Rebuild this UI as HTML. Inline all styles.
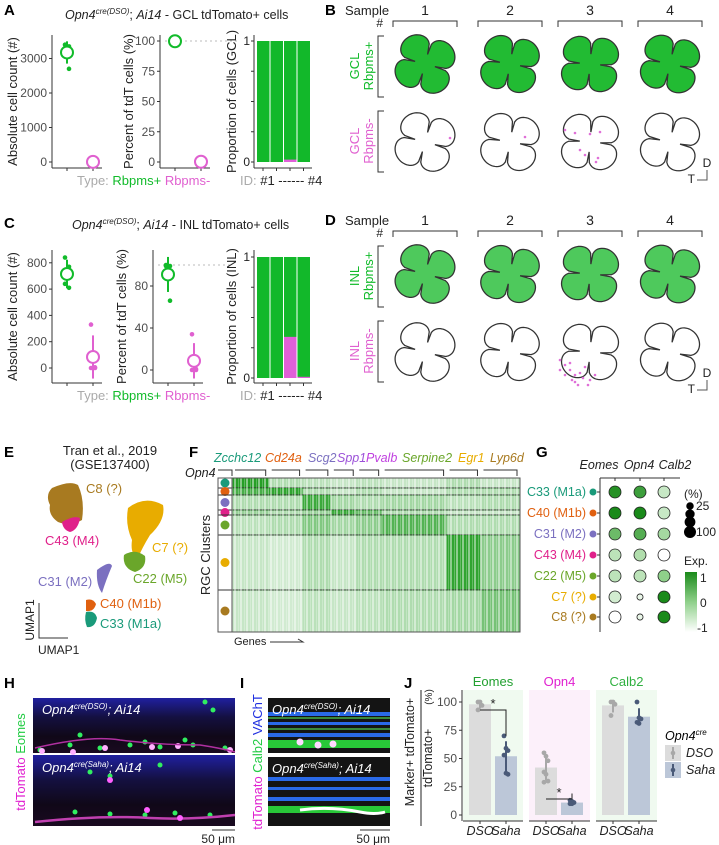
<!DOCTYPE html>
<html><head><meta charset="utf-8"><style>
html,body{margin:0;padding:0;background:#fff;}
svg{display:block;font-family:"Liberation Sans",Arial,sans-serif;}
text{font-family:"Liberation Sans",Arial,sans-serif;}
</style></head><body>
<svg id="fig" width="719" height="845" viewBox="0 0 719 845" xmlns="http://www.w3.org/2000/svg">
<defs>
<linearGradient id="expgrad" x1="0" y1="1" x2="0" y2="0"><stop offset="0" stop-color="#ffffff"/><stop offset="0.5" stop-color="#8fd08a"/><stop offset="1" stop-color="#1a8a1a"/></linearGradient>
<linearGradient id="hgrad" x1="0" y1="0" x2="0" y2="1"><stop offset="0" stop-color="#2020a0"/><stop offset="0.35" stop-color="#141040"/><stop offset="0.7" stop-color="#100818"/><stop offset="1" stop-color="#1a0a20"/></linearGradient>
<pattern id="stripes" width="6" height="4" patternUnits="userSpaceOnUse"><rect width="2" height="4" fill="#fff" opacity="0.45"/><rect x="4" width="1" height="4" fill="#fff" opacity="0.25"/></pattern>
</defs>
<g id="root"></g>
</svg>
<script>
// ---------- Panel A data ----------
const aCountRbpmsPos = [3400, 3350, 3250, 2700];
const aCountRbpmsNeg = [0, 0, 10, 5];
const aPctRbpmsPos = [100, 99.8, 99.5, 99.9];
const aPctRbpmsNeg = [0, 0.2, 0.5, 0.1];
const aPropNeg = [0, 0, 0.02, 0];
const aCountTicks = [0, 1000, 2000, 3000];
const aPctTicks = [0, 25, 50, 75, 100];
// ---------- Panel C data ----------
const cCountRbpmsPos = [840, 770, 640, 610];
const cCountRbpmsNeg = [330, 5, 0, 0];
const cPctRbpmsPos = [100, 99, 99, 66];
const cPctRbpmsNeg = [34, 1, 0, 0];
const cPropNeg = [0, 0, 0.34, 0.01];
const cCountTicks = [0, 200, 400, 600, 800];
const cPctTicks = [0, 40, 80];
// ---------- Panel F data ----------
const fClusters = ['C33','C40','C31','C43','C22','C7','C8'];
const fClusterColors = ['#1a9a7a','#e06010','#7b70c0','#e0208a','#6aa62a','#e8ac00','#a87a20'];
const fClusterRows = [10, 7, 15, 5, 20, 55, 42];
const fGeneBlocks = ['Zcchc12','Cd24a','Scg2','Spp1','Pvalb','Serpine2','Egr1','Lyp6d'];
const fGeneBlockCols = [13, 12, 10, 9, 9, 23, 12, 14];
const fBlockExpr = [
 [0.95,0.35,0.3,0.25,0.3,0.25,0.35,0.25],
 [0.8,0.9,0.35,0.25,0.35,0.25,0.35,0.35],
 [0.35,0.35,0.85,0.4,0.35,0.4,0.3,0.35],
 [0.45,0.35,0.45,0.85,0.65,0.35,0.25,0.25],
 [0.3,0.35,0.55,0.4,0.5,0.75,0.35,0.35],
 [0.25,0.2,0.35,0.25,0.35,0.35,0.9,0.5],
 [0.25,0.2,0.3,0.25,0.3,0.35,0.4,0.6]];
// ---------- Panel G data ----------
const gGenes = ['Eomes','Opn4','Calb2'];
const gClusters = ['C33 (M1a)','C40 (M1b)','C31 (M2)','C43 (M4)','C22 (M5)','C7 (?)','C8 (?)'];
const gExpr = [[0.9,0.7,-0.5],[1.0,1.0,-0.5],[0.3,0.5,-0.2],[-0.4,-0.3,-1],[-0.4,-0.4,0.0],[-0.6,-0.8,1.0],[-1,-0.8,1.0]];
const gPct = [[100,100,100],[100,100,100],[100,100,100],[100,100,100],[100,100,100],[100,12,100],[100,12,100]];
// ---------- Panel J data ----------
const jMarkers = ['Eomes','Opn4','Calb2'];
const jDsoMean = [98, 42, 97];
const jSahaMean = [52, 11, 87];
const jDsoPts = [[100,100,97,93],[55,52,48,38,36,30,29],[100,100,98,88]];
const jSahaPts = [[70,59,57,53,37,36],[13,12,11,10,10],[100,86,85,82,81]];
const jTicks = [0,25,50,75,100];

const NS='http://www.w3.org/2000/svg';
const root=document.getElementById('root');
function mk(tag, attrs, parent, name, inter){
  const el=document.createElementNS(NS,tag);
  for(const k in attrs) el.setAttribute(k, attrs[k]);
  
  
  (parent||root).appendChild(el); return el;
}
function txt(x,y,s,attrs,name,parent){
  const a=Object.assign({x:x,y:y,'font-size':12,fill:'#222'},attrs||{});
  const t=mk('text',a,parent,name,false); t.textContent=s; return t;
}
function line(x1,y1,x2,y2,attrs,name,parent){
  return mk('line',Object.assign({x1:x1,y1:y1,x2:x2,y2:y2,stroke:'#333','stroke-width':1},attrs||{}),parent,name,false);
}
function panelLabel(x,y,s){ txt(x,y,s,{'font-size':15,'font-weight':'bold',fill:'#000'},'panel-label-'+s.toLowerCase()); }
function titleCre(x,y,cre,rest,name){
  const t=mk('text',{x:x,y:y,'font-size':12.5,fill:'#222'},root,name,false);
  t.innerHTML='<tspan font-style="italic">Opn4</tspan><tspan font-style="italic" font-size="8" dy="-5">'+cre+'</tspan><tspan dy="5">; </tspan><tspan font-style="italic">Ai14</tspan><tspan>'+rest+'</tspan>';
}
const GREEN='#11bb2a', MAG='#e060d0';
const mean=a=>a.reduce((s,v)=>s+v,0)/a.length;
function sd(a){const m=mean(a);return Math.sqrt(a.reduce((s,v)=>s+(v-m)*(v-m),0)/(a.length-1||1));}

function yAxis(x,yTop,yBot,ticks,yf,name,fmt){
  const g=mk('g',{},root,name,false);
  line(x,yTop,x,yBot,{},'y-axis-line',g);
  ticks.forEach(v=>{const y=yf(v);line(x-3,y,x,y,{},'y-tick',g);txt(x-5,y+4,fmt?fmt(v):String(v),{'text-anchor':'end',fill:'#4d4d4d','font-size':12},'y-tick-label',g);});
  return g;
}
function dotGroup(g,x,pts,yf,color,name){
  const m=mean(pts), s=sd(pts);
  line(x,yf(m-s),x,yf(m+s),{stroke:color,'stroke-width':2},name+'-errorbar',g);
  pts.forEach((v,i)=>mk('circle',{cx:x+((i%2)?2:-2),cy:yf(v),r:2.3,fill:color},g,name+'-point',false));
  mk('circle',{cx:x,cy:yf(m),r:6,fill:'#fff',stroke:color,'stroke-width':2},g,name+'-mean',false);
}
function yRotLabel(x,y,s,name,size){
  txt(0,0,s,{transform:'translate('+x+','+y+') rotate(-90)','text-anchor':'middle','font-size':size||13,fill:'#222'},name);
}
function countPanel(prefix,top,bot,axX,zeroY,scale,ticks,pos,neg,pctAxX,pctZeroY,pctScale,pctTicks,ppos,pneg,propNeg,propTop,propZero,region){
  const y1=v=>zeroY-v*scale;
  const g1=yAxis(axX,top,bot,ticks,y1,prefix+'-count-axis');
  line(axX,bot,axX+50,bot,{},'x-axis-line',g1);
  line(axX+15,bot,axX+15,bot+3,{},'x-tick',g1);line(axX+41,bot,axX+41,bot+3,{},'x-tick',g1);
  dotGroup(g1,axX+15,pos,y1,GREEN,prefix+'-count-rbpms-pos');
  dotGroup(g1,axX+41,neg,y1,MAG,prefix+'-count-rbpms-neg');
  yRotLabel(17,(top+bot)/2,'Absolute cell count (#)',prefix+'-count-y-title');
  const y2=v=>pctZeroY-v*pctScale;
  const g2=yAxis(pctAxX,top,bot,pctTicks,y2,prefix+'-pct-axis');
  line(pctAxX,bot,pctAxX+50,bot,{},'x-axis-line',g2);
  line(pctAxX+15,bot,pctAxX+15,bot+3,{},'x-tick',g2);line(pctAxX+41,bot,pctAxX+41,bot+3,{},'x-tick',g2);
  line(pctAxX+5,y2(100),pctAxX+80,y2(100),{stroke:'#bbb','stroke-dasharray':'2,3'},'reference-line-100',g2);
  dotGroup(g2,pctAxX+15,ppos,y2,GREEN,prefix+'-pct-rbpms-pos');
  dotGroup(g2,pctAxX+41,pneg,y2,MAG,prefix+'-pct-rbpms-neg');
  yRotLabel(pctAxX-27,(top+bot)/2,'Percent of tdT cells (%)',prefix+'-pct-y-title');
  const t=mk('text',{x:77,y:bot+17,'font-size':13},root,prefix+'-type-legend',false);
  t.innerHTML='<tspan fill="#aaa">Type: </tspan><tspan fill="'+GREEN+'">Rbpms+ </tspan><tspan fill="'+MAG+'">Rbpms-</tspan>';
  const px=254; const y3=v=>propZero-v*(propZero-propTop);
  const g3=mk('g',{},root,prefix+'-proportion-chart',false);
  line(px,top,px,bot,{},'y-axis-line',g3);
  line(px,bot,px+58,bot,{},'x-axis-line',g3);
  [0,0.25,0.5,0.75,1].forEach(v=>{line(px-3,y3(v),px,y3(v),{},'y-tick',g3);});
  txt(px-4,y3(1)+4,'1',{'text-anchor':'end',fill:'#222','font-size':12},'y-tick-label',g3);
  txt(px-4,y3(0)+4,'0',{'text-anchor':'end',fill:'#222','font-size':12},'y-tick-label',g3);
  propNeg.forEach((f,i)=>{
    const x=px+3+i*13.5;
    mk('rect',{x:x,y:y3(1),width:12.5,height:y3(0)-y3(1),fill:'#12b82a'},g3,'bar-rbpms-pos-'+(i+1),false);
    if(f>0) mk('rect',{x:x,y:y3(f),width:12.5,height:y3(0)-y3(f),fill:'#e060d8'},g3,'bar-rbpms-neg-'+(i+1),false);
    line(x+6,bot,x+6,bot+3,{},'x-tick',g3);
  });
  yRotLabel(px-18,(top+bot)/2,'Proportion of cells ('+region+')',prefix+'-prop-y-title');
  const t2=mk('text',{x:240,y:bot+17,'font-size':13},root,prefix+'-id-legend',false);
  t2.innerHTML='<tspan fill="#aaa">ID: </tspan><tspan fill="#222">#1 ------ #4</tspan>';
}
panelLabel(4,15,'A');
titleCre(65,19,'cre(DSO)',' - GCL tdTomato+ cells','panel-a-title');
countPanel('a',35,168,52,162,0.0345,aCountTicks,aCountRbpmsPos,aCountRbpmsNeg,160,162,1.21,aPctTicks,aPctRbpmsPos,aPctRbpmsNeg,aPropNeg,41,162,'GCL');
panelLabel(4,228,'C');
titleCre(72,229,'cre(DSO)',' - INL tdTomato+ cells','panel-c-title');
countPanel('c',250,383,52,368,0.1315,cCountTicks,cCountRbpmsPos,cCountRbpmsNeg,153,370,1.05,cPctTicks,cPctRbpmsPos,cPctRbpmsNeg,cPropNeg,257,378,'INL');

// ---------- Retina panels B / D ----------
let clover='';
for(let k=0;k<=120;k++){
  const th=k/120*2*Math.PI;
  const r=0.32+0.68*Math.pow(Math.abs(Math.sin(2*th)),0.3);
  clover+=(k?'L':'M')+(r*Math.cos(th)).toFixed(3)+','+(r*Math.sin(th)).toFixed(3)+' ';
}
clover+='Z';
const retX=[425,510,590,670];
function retinaPanel(letter,y0,region,magDots,fillOp){
  panelLabel(325,y0+15,letter);
  txt(345,y0+15,'Sample',{'font-size':13},'panel-'+letter.toLowerCase()+'-sample-label');
  txt(383,y0+27,'#',{'font-size':12,'text-anchor':'end'},'sample-hash');
  retX.forEach((x,i)=>{
    txt(x,y0+15,String(i+1),{'font-size':14,'text-anchor':'middle'},'sample-number-'+(i+1));
    mk('path',{d:'M'+(x-32)+','+(y0+27)+' V'+(y0+21)+' H'+(x+32)+' V'+(y0+27),fill:'none',stroke:'#333'},root,'sample-bracket',false);
    const rot=[15,10,5,12][i];
    mk('path',{d:clover,transform:'translate('+x+','+(y0+64)+') rotate('+rot+') scale(32,31)',fill:'#22bb33','fill-opacity':fillOp,stroke:'#333','stroke-width':0.04},root,'retina-'+region.toLowerCase()+'-rbpms-pos-'+(i+1),false);
    mk('path',{d:clover,transform:'translate('+x+','+(y0+142)+') rotate('+rot+') scale(32,31)',fill:'#fff',stroke:'#333','stroke-width':0.04},root,'retina-'+region.toLowerCase()+'-rbpms-neg-'+(i+1),false);
  });
  magDots.forEach(d=>mk('circle',{cx:d[0],cy:y0+d[1],r:1.3,fill:'#e070d8'},root,'rbpms-neg-cell',false));
  mk('path',{d:'M384,'+(y0+36)+' H378 V'+(y0+97)+' H384',fill:'none',stroke:'#333'},root,'row-bracket',false);
  mk('path',{d:'M384,'+(y0+111)+' H378 V'+(y0+172)+' H384',fill:'none',stroke:'#333'},root,'row-bracket',false);
  txt(0,0,region,{transform:'translate(359,'+(y0+66)+') rotate(-90)','text-anchor':'middle',fill:GREEN,'font-size':13},'row-label-'+region.toLowerCase());
  txt(0,0,'Rbpms+',{transform:'translate(373,'+(y0+66)+') rotate(-90)','text-anchor':'middle',fill:GREEN,'font-size':13},'row-label-rbpms-pos');
  txt(0,0,region,{transform:'translate(359,'+(y0+141)+') rotate(-90)','text-anchor':'middle',fill:MAG,'font-size':13},'row-label-'+region.toLowerCase());
  txt(0,0,'Rbpms-',{transform:'translate(373,'+(y0+141)+') rotate(-90)','text-anchor':'middle',fill:MAG,'font-size':13},'row-label-rbpms-neg');
  txt(707,y0+167,'D',{'font-size':12,'text-anchor':'middle'},'compass-d');
  txt(695,y0+183,'T',{'font-size':12,'text-anchor':'end'},'compass-t');
  mk('path',{d:'M697,'+(y0+180)+' H707 V'+(y0+170),fill:'none',stroke:'#555'},root,'compass',false);
}
retinaPanel('B',0,'GCL',[[565,130],[575,133],[590,134],[600,132],[580,150],[585,155],[598,158],[596,162],[450,138],[525,137]],1);
const dMag=[];
[[560,325],[565,330],[570,335],[575,340],[580,338],[585,332],[572,345],[578,350],[590,345],[565,340],[560,335],[583,343],[588,350],[595,340],[570,328],[575,347]].forEach(p=>dMag.push([p[0],p[1]-200+25]));
retinaPanel('D',210,'INL',dMag,0.8);

// ---------- Panel E ----------
panelLabel(4,457,'E');
txt(110,455,'Tran et al., 2019',{'font-size':13,'text-anchor':'middle'},'umap-title');
txt(110,469,'(GSE137400)',{'font-size':13,'text-anchor':'middle'},'umap-subtitle');
const eBlobs=[
 ['C8','#a87a20','M52,488 Q70,480 78,485 Q85,500 82,520 Q70,527 58,522 Q48,515 50,505 Q45,495 52,488 Z','C8 (?)',86,493],
 ['C43','#e0208a','M62,522 Q74,515 80,518 Q78,530 70,532 Q63,530 62,522 Z','C43 (M4)',45,545],
 ['C7','#e8ac00','M128,508 Q145,495 163,505 Q166,520 150,535 Q142,548 138,558 Q130,555 132,540 Q125,525 128,508 Z','C7 (?)',152,552],
 ['C22','#6aa62a','M124,555 Q135,548 145,556 Q147,568 135,572 Q122,568 124,555 Z','C22 (M5)',133,583],
 ['C31','#7b70c0','M97,570 Q110,560 112,566 Q106,580 102,593 Q96,585 97,570 Z','C31 (M2)',38,586],
 ['C40','#e06010','M86,600 Q93,598 96,604 Q94,612 86,611 Z','C40 (M1b)',100,608],
 ['C33','#1a9a7a','M86,612 Q95,610 97,618 Q95,628 87,627 Q84,620 86,612 Z','C33 (M1a)',100,628]];
eBlobs.forEach(b=>{
  mk('path',{d:b[2],fill:b[1]},root,'umap-cluster-'+b[0].toLowerCase(),false);
  txt(b[4],b[5],b[3],{fill:b[1],'font-size':13},'umap-label-'+b[0].toLowerCase());
});
mk('path',{d:'M39,603 V638 H68',fill:'none',stroke:'#333'},root,'umap-axes',false);
txt(0,0,'UMAP1',{transform:'translate(34,620) rotate(-90)','text-anchor':'middle','font-size':12},'umap-y-label');
txt(38,654,'UMAP1',{'font-size':12},'umap-x-label');

// ---------- Panel F heatmap ----------
panelLabel(189,457,'F');
const fX0=232,fX1=520,fY0=478,fY1=632;
const totalCols=fGeneBlockCols.reduce((a,b)=>a+b,0);
const totalRows=fClusterRows.reduce((a,b)=>a+b,0);
const colW=(fX1-fX0)/totalCols, rowH=(fY1-fY0)/totalRows;
const fg=mk('g',{},root,'heatmap',false);
mk('rect',{x:fX0,y:fY0,width:fX1-fX0,height:fY1-fY0,fill:'#fff'},fg,'heatmap-background',false);
let ry=fY0;
fClusters.forEach((c,ci)=>{
  const h=fClusterRows[ci]*rowH;
  let cx=fX0;
  fGeneBlocks.forEach((gname,gi)=>{
    const w=fGeneBlockCols[gi]*colW;
    const cell=mk('rect',{x:cx,y:ry,width:w,height:h,fill:'#1a9a1a','fill-opacity':fBlockExpr[ci][gi]},fg,'heatmap-block',false);
    
    cx+=w;
  });
  mk('circle',{cx:225,cy:ry+h/2,r:4.5,fill:fClusterColors[ci]},fg,'cluster-marker-'+c.toLowerCase(),false);
  ry+=h;
  if(ci<fClusters.length-1) line(fX0-14,ry,fX1,ry,{stroke:'#333','stroke-width':1},'cluster-divider',fg);
});
mk('rect',{x:fX0,y:fY0,width:fX1-fX0,height:fY1-fY0,fill:'url(#stripes)'},fg,'heatmap-texture',false);
mk('rect',{x:218,y:fY0,width:fX1-218,height:fY1-fY0,fill:'none',stroke:'#555'},fg,'heatmap-frame',false);
line(fX0,fY0,fX0,fY1,{stroke:'#555'},'heatmap-divider',fg);
const fLabCols=['#1a9a7a','#e06010','#7b70c0','#9b50d8','#c040e0','#6aa62a','#e8ac00','#a87a20'];
const fLabX=[214,265,308,337,366,402,458,490];
fGeneBlocks.forEach((gname,gi)=>txt(fLabX[gi],462,gname,{'font-style':'italic',fill:fLabCols[gi],'font-size':12.5},'gene-label-'+gname.toLowerCase()));
let bx=fX0;
fGeneBlockCols.forEach((n,gi)=>{const w=n*colW;mk('path',{d:'M'+(bx+3)+',470 H'+(bx+w-3)+' V476',fill:'none',stroke:'#333'},root,'gene-bracket',false);bx+=w;});
txt(185,477,'Opn4',{'font-style':'italic','font-size':12.5},'gene-label-opn4');
mk('path',{d:'M218,470 H232 V476',fill:'none',stroke:'#333'},root,'opn4-bracket',false);
txt(0,0,'RGC Clusters',{transform:'translate(210,555) rotate(-90)','text-anchor':'middle','font-size':13},'heatmap-y-title');
txt(234,645,'Genes',{'font-size':11},'heatmap-x-title');
mk('path',{d:'M270,642 H303 L298,639',fill:'none',stroke:'#333'},root,'genes-arrow',false);

// ---------- Panel G dotplot ----------
panelLabel(536,457,'G');
const gColX=[615,640,664], gHeadX=[599,639,675], gRowY=[492,513,534,555,576,597,617];
line(600,478,600,632,{},'dotplot-y-axis');
line(600,478,680,478,{},'dotplot-x-axis');
gGenes.forEach((g,i)=>{txt(gHeadX[i],469,g,{'font-style':'italic','text-anchor':'middle','font-size':12.5},'dotplot-gene-'+g.toLowerCase());line(gColX[i],478,gColX[i],481,{},'x-tick');});
function expColor(e){const t=(e+1)/2;const lerp=(a,b,t)=>Math.round(a+(b-a)*t);
  if(t<0.5){const u=t/0.5;return 'rgb('+lerp(255,143,u)+','+lerp(255,208,u)+','+lerp(255,138,u)+')';}
  const u=(t-0.5)/0.5;return 'rgb('+lerp(143,26,u)+','+lerp(208,138,u)+','+lerp(138,26,u)+')';}
gClusters.forEach((c,ri)=>{
  txt(586,gRowY[ri]+4,c,{'text-anchor':'end',fill:fClusterColors[ri],'font-size':12.5},'dotplot-cluster-label');
  mk('circle',{cx:593,cy:gRowY[ri],r:3.5,fill:fClusterColors[ri]},root,'dotplot-cluster-marker',false);
  line(597,gRowY[ri],600,gRowY[ri],{},'y-tick');
  gGenes.forEach((g,gi)=>{
    const r=1.5+4.5*Math.sqrt(gPct[ri][gi]/100);
    mk('circle',{cx:gColX[gi],cy:gRowY[ri],r:r,fill:expColor(gExpr[ri][gi]),stroke:'#222','stroke-width':0.8},root,'dot-'+c.split(' ')[0].toLowerCase()+'-'+g.toLowerCase(),false);
  });
});
txt(684,498,'(%)',{'font-size':12},'size-legend-title');
[[25,506],[50,514],[75,522],[100,532]].forEach(s=>mk('circle',{cx:690,cy:s[1],r:1.5+4.5*Math.sqrt(s[0]/100),fill:'#000'},root,'size-legend-dot',false));
txt(696,510,'25',{'font-size':12},'size-legend-25');
txt(696,536,'100',{'font-size':12},'size-legend-100');
txt(684,565,'Exp.',{'font-size':12},'color-legend-title');
mk('rect',{x:685,y:572,width:12,height:60,fill:'url(#expgrad)'},root,'color-legend-bar',false);
txt(700,582,'1',{'font-size':12},'color-legend-1');
txt(700,607,'0',{'font-size':12},'color-legend-0');
txt(697,632,'-1',{'font-size':12},'color-legend-minus1');

// ---------- Panels H / I images ----------
panelLabel(4,688,'H');
panelLabel(240,688,'I');
panelLabel(404,688,'J');
function micro(x,y,w,h,blue,name){
  const g=mk('g',{},root,name,false);
  mk('rect',{x:x,y:y,width:w,height:h,fill:blue?'url(#hgrad)':'#141414'},g,name+'-bg',false);
  return g;
}
const h1=micro(33,698,202,55,true,'image-h-dso');
const h2=micro(33,755,202,71,true,'image-h-saha');
[[40,750],[70,745],[100,748],[130,745],[160,747],[193,745],[225,748],[80,735],[145,742],[185,740],[213,710],[205,702]].forEach(p=>mk('circle',{cx:p[0],cy:p[1],r:2.5,fill:'#30ee60'},h1,'eomes-cell',false));
[[42,751],[73,752],[105,748],[152,747],[178,746],[230,750]].forEach(p=>mk('circle',{cx:p[0],cy:p[1],r:3,fill:'#ffb0ff'},h1,'tdtomato-cell',false));
mk('path',{d:'M35,748 Q90,735 120,740 Q160,745 200,745 Q220,748 235,752',fill:'none',stroke:'#b030a0','stroke-width':1.5},h1,'dendrite',false);
[[75,812],[110,814],[145,815],[175,813],[210,815],[90,772],[110,776],[160,765]].forEach(p=>mk('circle',{cx:p[0],cy:p[1],r:2.5,fill:'#30ee60'},h2,'eomes-cell',false));
mk('path',{d:'M35,822 Q100,815 150,818 Q190,820 235,815',fill:'none',stroke:'#c040b0','stroke-width':2.5},h2,'dendrite',false);
[[147,810],[180,818],[110,780]].forEach(p=>mk('circle',{cx:p[0],cy:p[1],r:3,fill:'#ff60ff'},h2,'tdtomato-cell',false));
function labelCre(x,y,cre,name,parent){const t=mk('text',{x:x,y:y,'font-size':13,fill:'#fff'},parent,name,false);
 t.innerHTML='<tspan font-style="italic">Opn4</tspan><tspan font-style="italic" font-size="8" dy="-5">'+cre+'</tspan><tspan dy="5" font-style="italic">; Ai14</tspan>';}
labelCre(42,714,'cre(DSO)','image-h-dso-label',h1);
labelCre(42,772,'cre(Saha)','image-h-saha-label',h2);
const hl=mk('text',{transform:'translate(25,762) rotate(-90)','text-anchor':'middle','font-size':13},root,'image-h-channel-label',false);
hl.innerHTML='<tspan fill="#e020d0">tdTomato </tspan><tspan fill="#22cc44">Eomes</tspan>';
line(212,830,235,830,{stroke:'#333'},'scale-bar-h');
txt(235,843,'50 μm',{'font-size':12,'text-anchor':'end'},'scale-label-h');
const i1=micro(268,698,122,55,false,'image-i-dso');
const i2=micro(268,757,122,69,false,'image-i-saha');
[[712,2],[722,1.5],[733,2]].forEach(b=>mk('rect',{x:268,y:b[0],width:122,height:b[1]*2,fill:'#2a6ae8'},i1,'vacht-band',false));
[[717],[728]].forEach(b=>mk('rect',{x:268,y:b[0],width:122,height:2,fill:'#3a8a3a'},i1,'calb2-band',false));
mk('rect',{x:268,y:740,width:122,height:8,fill:'#28c838'},i1,'calb2-cell-layer',false);
[[300,742],[318,745],[333,744]].forEach(p=>mk('circle',{cx:p[0],cy:p[1],r:3.5,fill:'#ffd8ff'},i1,'tdtomato-cell',false));
[[777,2],[787,1.5],[797,2]].forEach(b=>mk('rect',{x:268,y:b[0],width:122,height:b[1]*2,fill:'#2a6ae8'},i2,'vacht-band',false));
mk('rect',{x:268,y:806,width:122,height:7,fill:'#28c838'},i2,'calb2-cell-layer',false);
mk('path',{d:'M300,810 Q330,806 360,812 Q375,815 385,812',fill:'none',stroke:'#fff','stroke-width':3},i2,'tdtomato-process',false);
labelCre(272,714,'cre(DSO)','image-i-dso-label',i1);
labelCre(272,773,'cre(Saha)','image-i-saha-label',i2);
const il=mk('text',{transform:'translate(262,762) rotate(-90)','text-anchor':'middle','font-size':13},root,'image-i-channel-label',false);
il.innerHTML='<tspan fill="#e020d0">tdTomato </tspan><tspan fill="#22cc44">Calb2 </tspan><tspan fill="#2030e0">VAChT</tspan>';
line(360,830,390,830,{stroke:'#333'},'scale-bar-i');
txt(390,843,'50 μm',{'font-size':12,'text-anchor':'end'},'scale-label-i');

// ---------- Panel J ----------
const jy=v=>815-v*1.13;
const facetX=[463,529,596], facetW=[60,61,61];
const facetBg=['#f0faf0','#fcf0fa','#f0faf0'], stripCol=['#22a030','#e020d0','#30b040'];
jMarkers.forEach((m,i)=>{
  const g=mk('g',{},root,'facet-'+m.toLowerCase(),false);
  mk('rect',{x:facetX[i],y:690,width:facetW[i],height:131,fill:facetBg[i]},g,'facet-background',false);
  txt(facetX[i]+facetW[i]/2,686,m,{'text-anchor':'middle',fill:stripCol[i],'font-size':13},'facet-strip-'+m.toLowerCase(),g);
  line(facetX[i],821,facetX[i]+facetW[i],821,{},'x-axis-line',g);
  const dx=facetX[i]+6, sx=facetX[i]+32;
  mk('rect',{x:dx,y:jy(jDsoMean[i]),width:22,height:jy(0)-jy(jDsoMean[i]),fill:'#dcdcdc'},g,'bar-dso-'+m.toLowerCase(),false);
  mk('rect',{x:sx,y:jy(jSahaMean[i]),width:22,height:jy(0)-jy(jSahaMean[i]),fill:'#bcc7d8'},g,'bar-saha-'+m.toLowerCase(),false);
  [[dx+11,jDsoPts[i],'#a8a8a8','dso'],[sx+11,jSahaPts[i],'#4a5a78','saha']].forEach(s=>{
    const mm=mean(s[1]),ss=sd(s[1]);
    line(s[0],jy(Math.min(100,mm+ss)),s[0],jy(mm-ss),{stroke:s[2],'stroke-width':2},'errorbar-'+s[3],g);
    s[1].forEach((v,k)=>mk('circle',{cx:s[0]+((k%3)-1)*2,cy:jy(v),r:2.4,fill:s[2]},g,'point-'+s[3],false));
    line(s[0],821,s[0],824,{},'x-tick',g);
  });
  txt(dx+11,835,'DSO',{'text-anchor':'middle','font-style':'italic','font-size':12.5},'x-label-dso',g);
  txt(sx+11,835,'Saha',{'text-anchor':'middle','font-style':'italic','font-size':12.5},'x-label-saha',g);
});
[[0,495,693,'Eomes'],[1,562,782,'Opn4']].forEach(s=>{
  const i=s[0];const dx=facetX[i]+17, sx=facetX[i]+43;
  mk('path',{d:'M'+dx+','+(s[2]+17)+' H'+sx+' V'+jy(jSahaMean[i]+(i?8:18)),fill:'none',stroke:'#222'},root,'significance-bracket-'+s[3].toLowerCase(),false);
  txt((dx+sx)/2,s[2]+15,'*',{'text-anchor':'middle','font-size':13},'significance-star');
});
yAxis(462,690,821,jTicks,jy,'j-y-axis');
txt(0,0,'Marker+ tdTomato+',{transform:'translate(414,752) rotate(-90)','text-anchor':'middle','font-size':12.5},'j-y-title-numerator');
txt(0,0,'(%)',{transform:'translate(432,697) rotate(-90)','text-anchor':'middle','font-size':10},'j-y-title-unit');
line(421,690,421,826,{stroke:'#222'},'fraction-line');
txt(0,0,'tdTomato+',{transform:'translate(432,758) rotate(-90)','text-anchor':'middle','font-size':12.5},'j-y-title-denominator');
const lt=mk('text',{x:665,y:740,'font-size':12.5},root,'legend-title',false);
lt.innerHTML='<tspan font-style="italic">Opn4</tspan><tspan font-style="italic" font-size="8" dy="-5">cre</tspan>';
[['DSO','#dcdcdc','#a8a8a8',745],['Saha','#bcc7d8','#4a5a78',762]].forEach(l=>{
  const g=mk('g',{},root,'legend-entry-'+l[0].toLowerCase(),false);
  mk('rect',{x:665,y:l[3],width:16,height:16,fill:l[1]},g,'legend-swatch',false);
  line(673,l[3]+2,673,l[3]+14,{stroke:l[2],'stroke-width':2},'legend-errorbar',g);
  mk('circle',{cx:673,cy:l[3]+8,r:2.3,fill:l[2]},g,'legend-point',false);
  txt(686,l[3]+12,l[0],{'font-style':'italic','font-size':12.5},'legend-label',g);
});
</script>
</body></html>
